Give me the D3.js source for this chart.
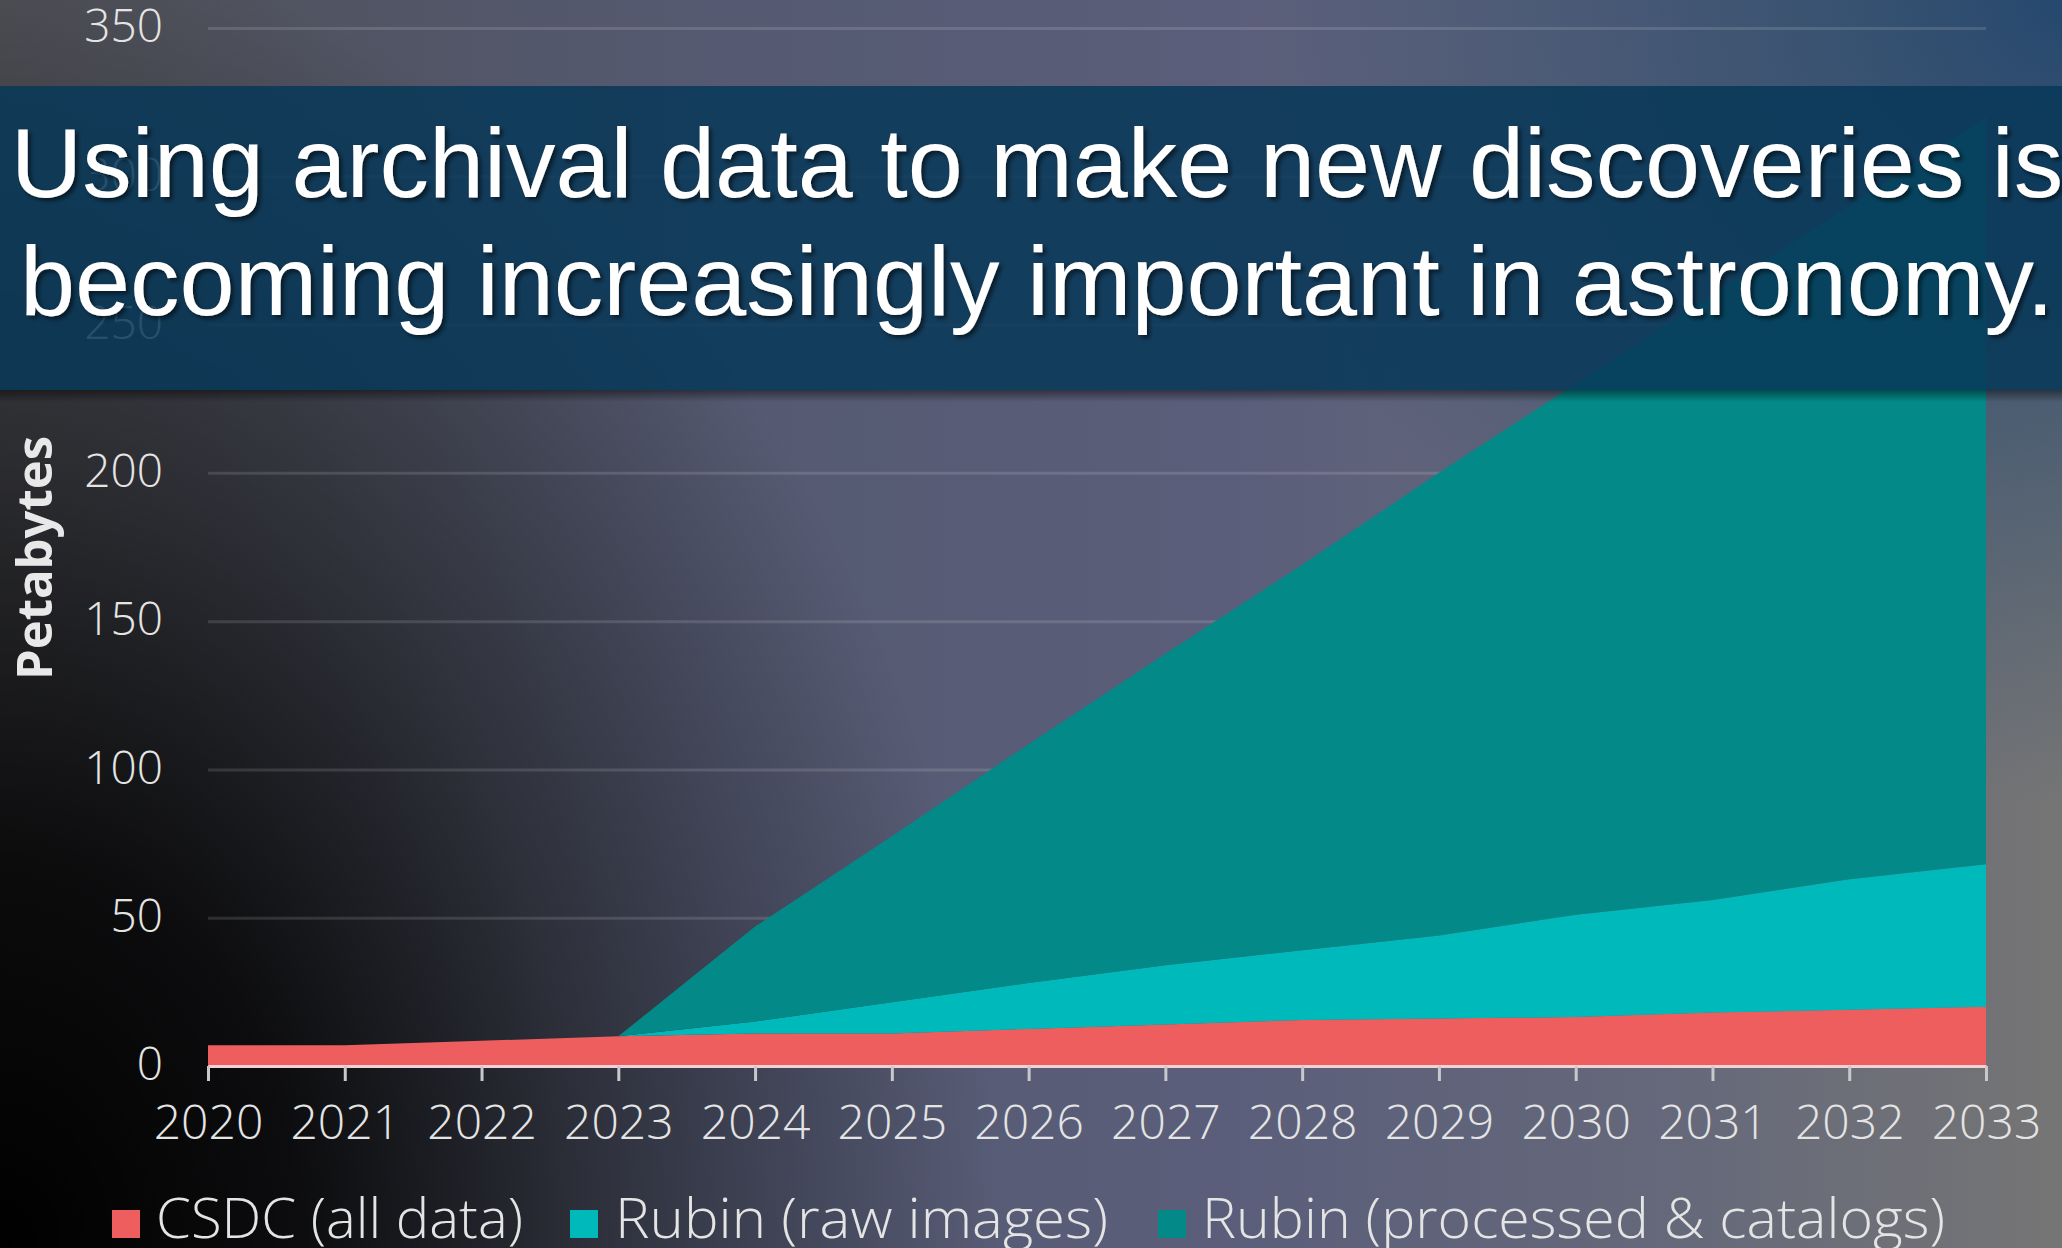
<!DOCTYPE html>
<html>
<head>
<meta charset="utf-8">
<script src="https://cdn.jsdelivr.net/npm/d3@7"></script>
<style>
  body { margin: 0; background: #000; overflow: hidden; }
</style>
</head>
<body>
<div id="chart"></div>
<script>
// data (petabytes per series, stacked)
const years = [2020, 2021, 2022, 2023, 2024, 2025, 2026, 2027, 2028, 2029, 2030, 2031, 2032, 2033];
const csdc = [7, 7, 8.5, 10, 11, 11, 12.5, 14, 15.5, 16, 16.5, 18, 19, 20];
const rubinRaw = [0, 0, 0, 0, 4, 10.5, 15.5, 20, 23.5, 28, 34.5, 38, 44, 48];
const rubinProcessed = [0, 0, 0, 0, 32, 56, 80.5, 105, 130, 156, 179, 204, 227, 252];
const yTicks = [0, 50, 100, 150, 200, 250, 300, 350];
const seriesKeys = ["csdc", "raw", "processed"];
const seriesNames = ["CSDC (all data)", "Rubin (raw images)", "Rubin (processed & catalogs)"];
const seriesColors = ["#ef5e5e", "#00b9bb", "#038a88"];
const titleLines = ["Using archival data to make new discoveries is",
                    "becoming increasingly important in astronomy."];
const yTitle = "Petabytes";

const W = 2062, H = 1248;
const margin = { left: 208, right: 76, top: 28, bottom: 182 };

const svg = d3.select("#chart").append("svg")
    .attr("width", W).attr("height", H);
const defs = svg.append("defs");

// background gradients
const base = defs.append("linearGradient").attr("id", "bgBase")
    .attr("x1", 0).attr("y1", 0).attr("x2", 1).attr("y2", 0);
[["0", "#4e4f55"], ["0.35", "#555a72"], ["0.6", "#5a5e7a"], ["0.82", "#66697a"], ["1", "#757575"]]
    .forEach(s => base.append("stop").attr("offset", s[0]).attr("stop-color", s[1]));

const dark = defs.append("radialGradient").attr("id", "bgDark")
    .attr("gradientUnits", "userSpaceOnUse")
    .attr("cx", 0).attr("cy", H).attr("r", 1000)
    .attr("gradientTransform", `translate(0,${H}) scale(1,1.3) translate(0,${-H})`);
[["0", 1], ["0.3", 0.85], ["0.6", 0.45], ["1", 0]]
    .forEach(s => dark.append("stop").attr("offset", s[0]).attr("stop-color", "#000").attr("stop-opacity", s[1]));

const blue = defs.append("radialGradient").attr("id", "bgBlue")
    .attr("gradientUnits", "userSpaceOnUse")
    .attr("cx", W).attr("cy", 0).attr("r", 800);
[["0", 0.95], ["0.5", 0.5], ["1", 0]]
    .forEach(s => blue.append("stop").attr("offset", s[0]).attr("stop-color", "#22466e").attr("stop-opacity", s[1]));

const shadowGrad = defs.append("linearGradient").attr("id", "bandShadow")
    .attr("x1", 0).attr("y1", 0).attr("x2", 0).attr("y2", 1);
shadowGrad.append("stop").attr("offset", "0").attr("stop-color", "#000").attr("stop-opacity", 0.45);
shadowGrad.append("stop").attr("offset", "1").attr("stop-color", "#000").attr("stop-opacity", 0);

const txtShadow = defs.append("filter").attr("id", "txtShadow")
    .attr("x", "-5%").attr("y", "-20%").attr("width", "110%").attr("height", "140%");
txtShadow.append("feDropShadow").attr("dx", 3).attr("dy", 3)
    .attr("stdDeviation", 2).attr("flood-color", "#000").attr("flood-opacity", 0.55);

svg.append("rect").attr("width", W).attr("height", H).attr("fill", "url(#bgBase)");
svg.append("rect").attr("width", W).attr("height", H).attr("fill", "url(#bgBlue)");
svg.append("rect").attr("width", W).attr("height", H).attr("fill", "url(#bgDark)");

// scales
const x = d3.scaleLinear()
    .domain([years[0], years[years.length - 1]])
    .range([margin.left, W - margin.right]);
const y = d3.scaleLinear()
    .domain([0, 350])
    .range([H - margin.bottom, margin.top]);

// gridlines + y labels
const yAxis = svg.append("g")
    .attr("transform", "translate(" + margin.left + ",0)")
    .call(d3.axisLeft(y).tickValues(yTicks)
        .tickSizeInner(-(x.range()[1] - x.range()[0]))
        .tickSizeOuter(0).tickPadding(45));
yAxis.select(".domain").remove();
yAxis.selectAll(".tick line")
    .attr("stroke", "#ffffff").attr("stroke-opacity", 0.13).attr("stroke-width", 3)
    .filter(d => d === 0).remove();
yAxis.selectAll(".tick text")
    .attr("fill", "#e4e4e4")
    .style("font-family", "'Open Sans', sans-serif")
    .style("font-weight", 300)
    .style("font-size", "46px")
    .attr("dy", "0.3em");

// stacked areas
const table = years.map((yr, i) => ({
    year: yr, csdc: csdc[i], raw: rubinRaw[i], processed: rubinProcessed[i]
}));
const stacked = d3.stack().keys(seriesKeys)(table);
const area = d3.area()
    .x(d => x(d.data.year))
    .y0(d => y(d[0]))
    .y1(d => y(d[1]));
svg.append("g").selectAll("path")
    .data(stacked)
    .enter()
    .append("path")
    .attr("d", area)
    .attr("fill", (d, i) => seriesColors[i]);

// x axis
const xAxis = svg.append("g")
    .attr("transform", "translate(0," + y(0) + ")")
    .call(d3.axisBottom(x).tickValues(years).tickFormat(d3.format("d"))
        .tickSizeInner(15).tickSizeOuter(0).tickPadding(24));
xAxis.select(".domain")
    .attr("stroke", "#f2d2d4").attr("stroke-width", 3);
xAxis.selectAll(".tick line")
    .attr("stroke", "#c9c9cc").attr("stroke-width", 3);
xAxis.selectAll(".tick text")
    .attr("fill", "#e4e4e4")
    .style("font-family", "'Open Sans', sans-serif")
    .style("font-weight", 300)
    .style("font-size", "48px");

// y title
svg.append("text")
    .attr("transform", "translate(52,558) rotate(-90)")
    .attr("text-anchor", "middle")
    .attr("fill", "#e8e8e8")
    .style("font-family", "'Open Sans', sans-serif")
    .style("font-weight", "bold")
    .style("font-size", "49px")
    .text(yTitle);

// legend
const legendLayout = [
    { sq: 112, tx: 156, len: 367 },
    { sq: 570, tx: 615, len: 493 },
    { sq: 1158, tx: 1202, len: 743 }
];
const legend = svg.append("g");
seriesNames.forEach((name, i) => {
    const l = legendLayout[i];
    legend.append("rect")
        .attr("x", l.sq).attr("y", 1210)
        .attr("width", 28).attr("height", 28)
        .attr("fill", seriesColors[i]);
    legend.append("text")
        .attr("x", l.tx).attr("y", 1238)
        .attr("fill", "#e4e4e4")
        .attr("textLength", l.len)
        .attr("lengthAdjust", "spacingAndGlyphs")
        .style("font-family", "'Open Sans', sans-serif")
        .style("font-weight", 300)
        .style("font-size", "56px")
        .text(name);
});

// title banner
svg.append("rect")
    .attr("x", 0).attr("y", 390).attr("width", W).attr("height", 12)
    .attr("fill", "url(#bandShadow)");
svg.append("rect")
    .attr("x", 0).attr("y", 86).attr("width", W).attr("height", 304)
    .attr("fill", "rgb(8,56,88)").attr("fill-opacity", 0.86);
svg.append("g").attr("filter", "url(#txtShadow)")
    .selectAll("text")
    .data(titleLines)
    .enter()
    .append("text")
    .attr("x", 1037)
    .attr("y", (d, i) => 197 + i * 118)
    .attr("text-anchor", "middle")
    .attr("fill", "#ffffff")
    .style("font-family", "'Liberation Sans', Arial, sans-serif")
    .style("font-size", "99px")
    .text(d => d);
</script>
</body>
</html>
